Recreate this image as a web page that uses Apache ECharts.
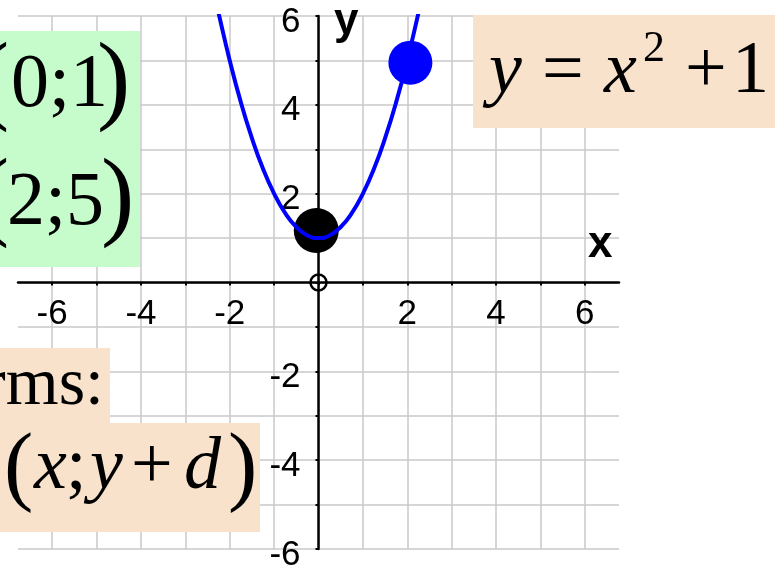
<!DOCTYPE html>
<html>
<head>
<meta charset="utf-8">
<script src="https://cdn.jsdelivr.net/npm/echarts@6/dist/echarts.min.js"></script>
<style>
html, body { margin: 0; padding: 0; background: #fff; }
#main { width: 782px; height: 565px; }
</style>
</head>
<body>
<div id="main"></div>
<script>
// ticks and labels
var xTicks = [-6, -5, -4, -3, -2, -1, 0, 1, 2, 3, 4, 5, 6];
var yTicks = [-6, -5, -4, -3, -2, -1, 0, 1, 2, 3, 4, 5, 6];
var xLabels = [-6, -4, -2, 2, 4, 6];
var yLabels = [-6, -4, -2, 2, 4, 6];

// parabola
var curveX = [-2.3, -2.25, -2, -1.75, -1.5, -1.25, -1, -0.75, -0.5, -0.25, 0, 0.25, 0.5, 0.75, 1, 1.25, 1.5, 1.75, 2, 2.25, 2.3];
var curveY = [6.29, 6.06, 5, 4.06, 3.25, 2.56, 2, 1.56, 1.25, 1.06, 1, 1.06, 1.25, 1.56, 2, 2.56, 3.25, 4.06, 5, 6.06, 6.29];

// marked points
var blackPoint = [-0.05, 1.17];
var bluePoint = [2.07, 4.95];
var originPoint = [0, 0];

var chart = echarts.init(document.getElementById('main'), null, { renderer: 'canvas' });

var curveData = curveX.map(function (x, i) { return [x, curveY[i]]; });

var serif = '"Liberation Serif", "Times New Roman", serif';
var sans = '"Liberation Sans", Arial, sans-serif';
var green = '#c6fbcb';
var peach = '#f8e2cb';

// grid box in px, the axes are moved onto x=0 / y=0 with offset
var gridLeft = 18, gridRight = 163, gridTop = 16, gridBottom = 16;
var xOffset = -266.5; // bottom edge -> y=0
var yOffset = -300.5; // left edge -> x=0

// small helper for text on the boxes
function txt(s, x, y, size, opt) {
  opt = opt || {};
  var align = opt.align || 'left';
  return {
    type: 'text',
    z: 101,
    style: {
      text: s,
      x: x,
      y: y,
      fontFamily: opt.family || serif,
      fontSize: size,
      fontStyle: opt.italic ? 'italic' : 'normal',
      fontWeight: opt.bold ? 'bold' : 'normal',
      fill: '#000',
      align: align,
      textAlign: align,
      verticalAlign: 'middle',
      textVerticalAlign: 'middle'
    }
  };
}
function box(x, y, w, h, color) {
  return { type: 'rect', z: 100, shape: { x: x, y: y, width: w, height: h }, style: { fill: color } };
}

var option = {
  backgroundColor: '#fff',
  animation: false,
  grid: {
    left: gridLeft, right: gridRight, top: gridTop, bottom: gridBottom,
    containLabel: false, outerBoundsMode: 'none'
  },
  xAxis: {
    type: 'value',
    min: -6.77,
    max: 6.77,
    position: 'bottom',
    offset: xOffset,
    axisLine: { onZero: false, lineStyle: { color: '#000', width: 2.5 } },
    axisTick: { show: true, length: 3, lineStyle: { color: '#000', width: 2 }, customValues: xTicks },
    axisLabel: {
      customValues: xLabels,
      color: '#000', fontFamily: sans, fontSize: 35, margin: 14
    },
    splitLine: { show: true, lineStyle: { color: '#c8c8c8', width: 1.5 } }
  },
  yAxis: {
    type: 'value',
    min: -6,
    max: 6,
    position: 'left',
    offset: yOffset,
    axisLine: { onZero: false, lineStyle: { color: '#000', width: 2.5 } },
    axisTick: { show: true, length: 3, lineStyle: { color: '#000', width: 2 }, customValues: yTicks },
    axisLabel: {
      customValues: yLabels,
      color: '#000', fontFamily: sans, fontSize: 35, margin: 18,
      verticalAlign: 'top', lineHeight: 12
    },
    splitLine: { show: true, lineStyle: { color: '#c8c8c8', width: 1.5 } }
  },
  series: [
    {
      type: 'line',
      data: curveData,
      smooth: true,
      showSymbol: false,
      clip: true,
      lineStyle: { color: '#0000ff', width: 4 }
    },
    {
      type: 'scatter',
      data: [blackPoint],
      symbolSize: 45,
      itemStyle: { color: '#000', opacity: 1 }
    },
    {
      type: 'scatter',
      data: [bluePoint],
      symbolSize: 44,
      itemStyle: { color: '#0000ff', opacity: 1 }
    },
    {
      type: 'scatter',
      data: [originPoint],
      symbolSize: 16,
      itemStyle: { color: 'rgba(0,0,0,0)', borderColor: '#000', borderWidth: 2.5, opacity: 1 }
    }
  ],
  graphic: [
    // axis names
    txt('y', 334, 22, 44, { family: sans, bold: true }),
    txt('x', 588, 245, 44, { family: sans, bold: true }),

    // green box with the two points
    box(0, 31, 140, 236, green),
    txt('(', -24, 85, 100),
    txt('0;1', 11, 86, 76),
    txt(')', 97, 85, 100),
    txt('(', -24, 201, 100),
    txt('2;5', 7, 204, 76),
    txt(')', 101, 201, 100),

    // formula box
    box(473, 15, 302, 113, peach),
    txt('y', 489, 73, 74, { italic: true }),
    txt('=', 542, 73, 74),
    txt('x', 604, 73, 74, { italic: true }),
    txt('2', 643, 49, 44),
    txt('+', 685, 73, 74),
    txt('1', 732, 73, 74),

    // lower boxes
    box(0, 348, 110, 75, peach),
    box(0, 423, 260, 109, peach),
    txt('rms:', 104, 386, 68, { align: 'right' }),
    txt('(', 4, 471, 88),
    txt('x', 34, 469, 74, { italic: true }),
    txt(';', 66, 469, 74),
    txt('y', 90, 469, 74, { italic: true }),
    txt('+', 131, 469, 74),
    txt('d', 184, 469, 74, { italic: true }),
    txt(')', 228, 471, 88)
  ]
};

chart.setOption(option);
</script>
</body>
</html>
